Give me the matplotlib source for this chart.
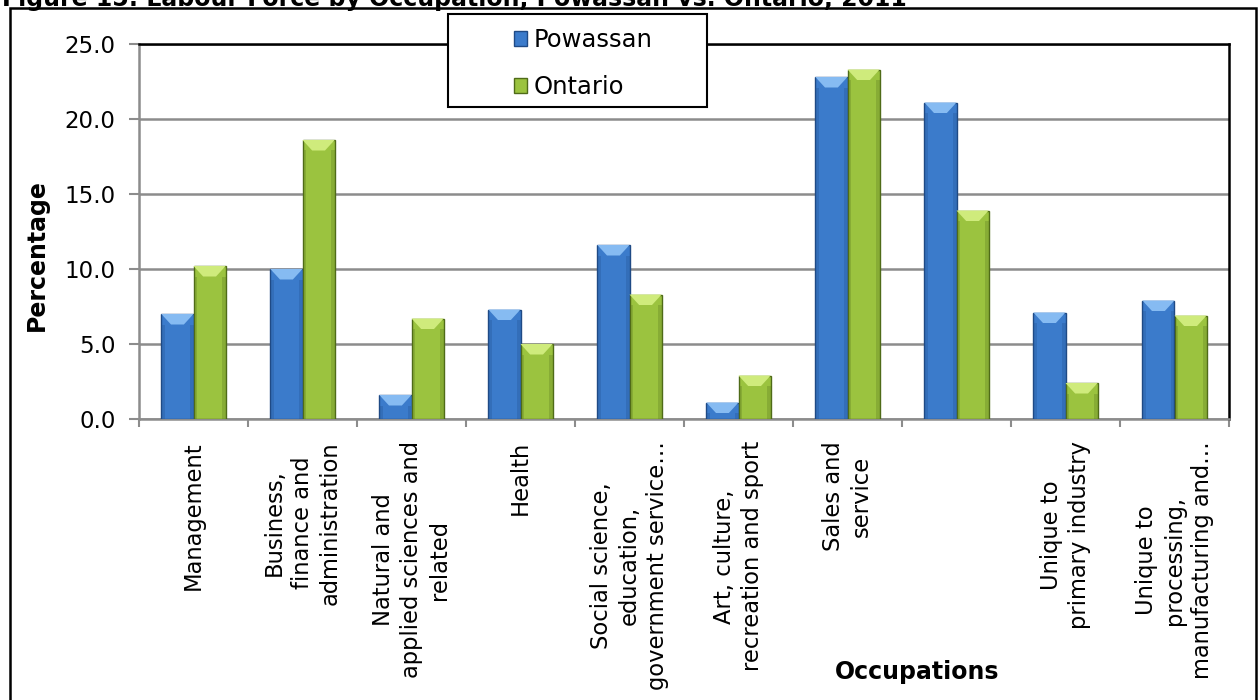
import matplotlib
matplotlib.use("Agg")
import matplotlib.pyplot as plt
import numpy as np
from matplotlib.patches import Rectangle, Polygon

# occupation groups (the trades group has no label on the axis)
occupations = [
    "Management",
    "Business,\nfinance and\nadministration",
    "Natural and\napplied sciences and\nrelated",
    "Health",
    "Social science,\neducation,\ngovernment service\u2026",
    "Art, culture,\nrecreation and sport",
    "Sales and\nservice",
    "",
    "Unique to\nprimary industry",
    "Unique to\nprocessing,\nmanufacturing and\u2026",
]
powassan = [7.0, 10.0, 1.6, 7.3, 11.6, 1.1, 22.8, 21.1, 7.1, 7.9]
ontario = [10.2, 18.6, 6.7, 5.0, 8.3, 2.9, 23.3, 13.9, 2.4, 6.9]
series_names = ["Powassan", "Ontario"]

blue = "#3b7bcb"
blue_dark = "#1f4a85"
blue_light = "#86bbf2"
green = "#9bc33f"
green_dark = "#4f6b18"
green_light = "#cfeb7c"
grid_grey = "#8c8c8c"

W, H = 1258, 700
fig = plt.figure(figsize=(W / 100, H / 100), dpi=100)
plt.rcParams["font.family"] = ["DejaVu Sans"]

# outer frame of the figure
fig.patches.append(Rectangle((10 / W, -0.05), (1256 - 10) / W, (H - 8) / H + 0.05,
                             transform=fig.transFigure, fill=False,
                             edgecolor="black", linewidth=1.8, zorder=0))

fig.text(2 / W, 1 - 6 / H, "Figure 15: Labour Force by Occupation, Powassan vs. Ontario, 2011",
         fontsize=17, fontweight="bold", ha="left", va="baseline")

ax = fig.add_axes([139 / W, 1 - 419 / H, (1229 - 139) / W, (419 - 44) / H])

x = np.arange(len(occupations))
bw = 0.295


def bevel_bars(xs, vals, color, dark, light):
    bars = ax.bar(xs, vals, width=bw, color=color, edgecolor=dark, linewidth=1.0, zorder=3)
    for b in bars:
        x0, w, h = b.get_x(), b.get_width(), b.get_height()
        d = min(0.7, h)  # bevel depth in data units
        inset = w * 0.3
        ax.add_patch(Polygon([(x0, h), (x0 + w, h), (x0 + w - inset, h - d), (x0 + inset, h - d)],
                             closed=True, facecolor=light, edgecolor="none", zorder=4))
        # darker shading down the sides
        for sx in (x0, x0 + w * 0.88):
            ax.add_patch(Rectangle((sx, 0), w * 0.12, h - d, facecolor=dark, alpha=0.25,
                                   edgecolor="none", zorder=4))
    return bars


b1 = bevel_bars(x - bw / 2, powassan, blue, blue_dark, blue_light)
b2 = bevel_bars(x + bw / 2, ontario, green, green_dark, green_light)

ax.set_xlim(-0.5, len(occupations) - 0.5)
ax.set_ylim(0, 25)
yt = np.arange(0, 25.1, 5)
ax.set_yticks(yt)
ax.set_yticklabels([f"{v:.1f}" for v in yt], fontsize=16.5)
ax.yaxis.grid(True, color=grid_grey, linewidth=1.8, zorder=0)
ax.set_axisbelow(True)

ax.set_xticks(np.arange(-0.5, len(occupations), 1.0))
ax.set_xticklabels([])
ax.set_xticks(x, minor=True)
ax.set_xticklabels(occupations, minor=True, rotation=90, fontsize=16.3,
                   ha="center", va="top", multialignment="center", linespacing=1.28)
ax.tick_params(axis="x", which="major", length=6, color=grid_grey, width=1.5, direction="out")
ax.tick_params(axis="x", which="minor", length=0, pad=16)
ax.tick_params(axis="y", length=7, color=grid_grey, width=1.5, pad=10)

for side in ["left", "bottom"]:
    ax.spines[side].set_color(grid_grey)
    ax.spines[side].set_linewidth(1.8)
for side in ["top", "right"]:
    ax.spines[side].set_color("black")
    ax.spines[side].set_linewidth(1.8)

fig.text(37 / W, 1 - 255 / H, "Percentage", rotation=90, fontsize=17,
         fontweight="bold", ha="center", va="center")
fig.text(917 / W, 1 - 672 / H, "Occupations", fontsize=17, fontweight="bold",
         ha="center", va="center")

# legend box sitting over the top edge of the plot
fig.patches.append(Rectangle((448 / W, 1 - 107 / H), (707 - 448) / W, (107 - 14) / H,
                             transform=fig.transFigure, facecolor="white",
                             edgecolor="black", linewidth=1.5, zorder=5))
leg = fig.legend([b1, b2], series_names, loc="upper left",
                 bbox_to_anchor=(491 / W, 1 - 5 / H), fontsize=17.5,
                 frameon=False, handlelength=0.55, handleheight=0.55,
                 handletextpad=0.25, labelspacing=0.95, borderpad=0.45)
leg.set_zorder(6)

fig.savefig("out.png", dpi=100)
